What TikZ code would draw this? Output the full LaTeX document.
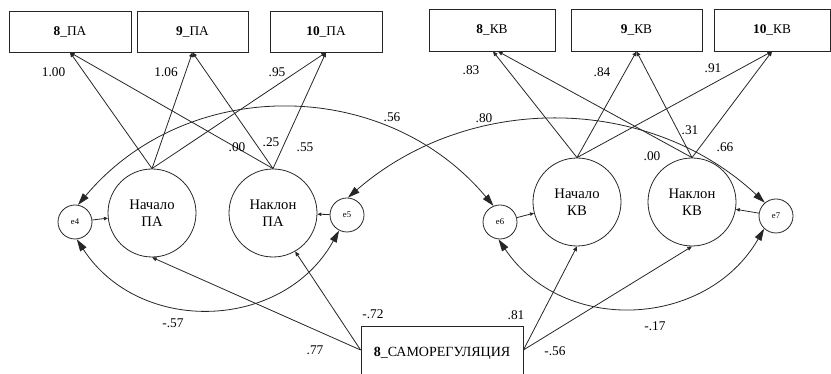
\documentclass[tikz,border=0pt]{standalone}
\usepackage{fontspec}
\setmainfont{Liberation Serif}
\newfontfamily\amosfont{Liberation Serif}
\usetikzlibrary{arrows.meta}

\tikzset{
  obs/.style={draw, rectangle, minimum height=30.75pt, inner sep=0pt,
    font=\amosfont\fontsize{10}{12}\selectfont},
  lat/.style={draw, circle, minimum size=66pt, inner sep=0pt, align=center,
    font=\amosfont\fontsize{11}{12.4}\selectfont},
  err/.style={draw, circle, minimum size=25.5pt, inner sep=0pt,
    font=\amosfont\fontsize{6.5}{7}\selectfont},
  coef/.style={inner sep=0pt, font=\amosfont\fontsize{10}{12}\selectfont},
  load/.style={-{Triangle[length=3.5pt,width=3pt]}},
  resid/.style={-{Triangle[length=3pt,width=2.6pt]}},
  cov/.style={{Triangle[length=9pt,width=5.5pt]}-{Triangle[length=9pt,width=5.5pt]}},
}

\begin{document}
\begin{tikzpicture}[x=0.75pt, y=0.75pt, line width=0.6pt, draw=black!85]
\useasboundingbox (0,0) rectangle (831,374);

% indicators
\node[obs, minimum width=91.5pt]  (b8PA)  at (70,342.5)  {\textbf{8}\_ПА};
\node[obs, minimum width=83.25pt] (b9PA)  at (192.5,342.5) {\textbf{9}\_ПА};
\node[obs, minimum width=84pt]    (b10PA) at (326,342.5) {\textbf{10}\_ПА};
\node[obs, minimum width=94.5pt, minimum height=31.5pt]  (b8KV)  at (492,344)   {\textbf{8}\_КВ};
\node[obs, minimum width=98.25pt, minimum height=31.5pt] (b9KV)  at (636.5,344) {\textbf{9}\_КВ};
\node[obs, minimum width=87pt, minimum height=31.5pt]    (b10KV) at (772,344)   {\textbf{10}\_КВ};

% growth factors
\node[lat] (nPA) at (152,161) {Начало\\ПА};
\node[lat] (kPA) at (273,161) {Наклон\\ПА};
\node[lat] (nKV) at (577,172) {Начало\\КВ};
\node[lat] (kKV) at (692,172) {Наклон\\КВ};

% disturbances
\node[err] (e4) at (75,152)  {e4};
\node[err] (e5) at (347,159) {e5};
\node[err] (e6) at (500,152) {e6};
\node[err] (e7) at (776,158) {e7};

% predictor
\node[obs, minimum width=121.5pt, minimum height=40.5pt,
      font=\amosfont\fontsize{10.5}{12}\selectfont] (sam) at (442,21) {\textbf{8}\_САМОРЕГУЛЯЦИЯ};

% loadings
\draw[load] (nPA.north) -- (b8PA.south);
\draw[load] (nPA.north) -- (b9PA.south);
\draw[load] (nPA.north) -- (b10PA.south);
\draw[load] (kPA.north) -- (b8PA.south);
\draw[load] (kPA.north) -- (b9PA.south);
\draw[load] (kPA.north) -- (b10PA.south);
\draw[load] (nKV.north) -- ([xshift=0.75pt]b8KV.south);
\draw[load] (nKV.north) -- (b9KV.south);
\draw[load] (nKV.north) -- (b10KV.south);
\draw[load] (kKV.north) -- ([xshift=4.5pt]b8KV.south);
\draw[load] (kKV.north) -- (b9KV.south);
\draw[load] (kKV.north) -- (b10KV.south);

% disturbance paths
\draw[resid] (e4) -- (nPA);
\draw[resid] (e5) -- (kPA);
\draw[resid] (e6) -- (nKV);
\draw[resid] (e7) -- (kKV);

% regressions on the predictor
\draw[load] ([yshift=2.25pt]sam.west) -- (nPA.south);
\draw[load] ([yshift=2.25pt]sam.west) -- (kPA.-60);
\draw[load] ([yshift=2.25pt]sam.east) -- (nKV.south);
\draw[load] ([yshift=2.25pt]sam.east) -- (kKV.south);

% covariances
\draw[cov] (e4.80) to[out=50,in=130,looseness=1.04] (e6.112);
\draw[cov] (e5.87) to[out=41,in=137,looseness=0.98] (e7.130);
\draw[cov] (e4.-84) to[out=-57,in=-119,looseness=1.12] (e5.-117);
\draw[cov] (e6.-95) to[out=-56,in=-120,looseness=1.11] (e7.-133);

% coefficients
\node[coef] (c1)  at (53.5,302) {1.00};
\node[coef] (c2)  at (166,302)  {1.06};
\node[coef] (c3)  at (277,302)  {.95};
\node[coef] (c4)  at (237,227)  {.00};
\node[coef] (c5)  at (271,232)  {.25};
\node[coef] (c6)  at (305,227)  {.55};
\node[coef] (c7)  at (392,257)  {.56};
\node[coef] (c8)  at (471,304)  {.83};
\node[coef] (c9)  at (602,302)  {.84};
\node[coef] (c10) at (713,306)  {.91};
\node[coef] (c11) at (484,256)  {.80};
\node[coef] (c12) at (690,244)  {.31};
\node[coef] (c13) at (652,218)  {.00};
\node[coef] (c14) at (725,227)  {.66};
\node[coef] (c15) at (173,51)   {-.57};
\node[coef] (c16) at (315,24)   {.77};
\node[coef] (c17) at (373,60)   {-.72};
\node[coef] (c18) at (516,59)   {.81};
\node[coef] (c19) at (555,23)   {-.56};
\node[coef] (c20) at (655,48)   {-.17};
\end{tikzpicture}
\end{document}
